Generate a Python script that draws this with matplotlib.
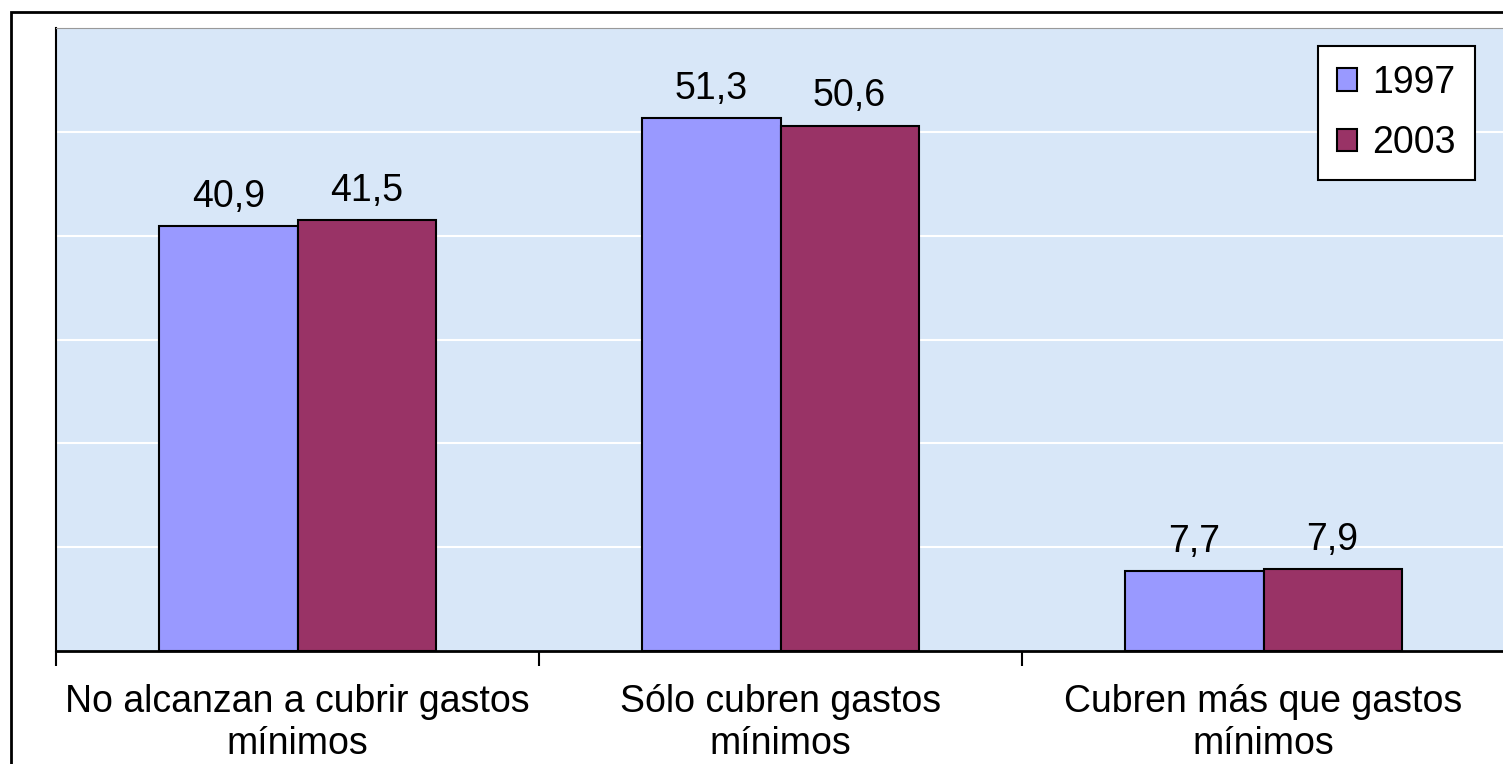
import matplotlib
matplotlib.use("Agg")
from matplotlib import pyplot as plt, patches
import numpy as np

categories = ["No alcanzan a cubrir gastos\nmínimos", "Sólo cubren gastos\nmínimos", "Cubren más que gastos\nmínimos"]
years = ["1997", "2003"]
values_1997 = [40.9, 51.3, 7.7]
values_2003 = [41.5, 50.6, 7.9]

plt.rcParams['font.family'] = ['Liberation Sans', 'DejaVu Sans']

fig = plt.figure(figsize=(15.03, 7.64), dpi=100)
ax = fig.add_axes([56 / 1503, 113 / 764, 1449 / 1503, 623 / 764])

# outer frame of the chart area
fig.patches.append(patches.Rectangle((11 / 1503, -0.05), 1.1, (752 / 764) + 0.05, transform=fig.transFigure,
                                     fill=False, edgecolor='black', linewidth=2, zorder=0))

ax.set_facecolor('#d8e7f8')
x = np.arange(len(categories))
width = 0.286
bars1 = ax.bar(x - width / 2, values_1997, width, color='#9999ff', edgecolor='black', linewidth=1.5, label=years[0], zorder=3)
bars2 = ax.bar(x + width / 2, values_2003, width, color='#993366', edgecolor='black', linewidth=1.5, label=years[1], zorder=3)

for bars, vals in ((bars1, values_1997), (bars2, values_2003)):
    for b, v in zip(bars, vals):
        ax.annotate(f"{v:.1f}".replace('.', ','), (b.get_x() + b.get_width() / 2, v), xytext=(0, 8),
                    textcoords='offset points', ha='center', va='bottom', fontsize=27)

ax.set_xlim(-0.5, 2.5)
ax.set_ylim(0, 60)
ax.set_yticks(range(10, 60, 10))
ax.yaxis.grid(True, color='white', linewidth=1.5, zorder=1)
ax.tick_params(axis='y', left=False, labelleft=False)

ax.set_xticks(x)
ax.set_xticklabels(categories, fontsize=27, linespacing=1.2)
ax.set_xticks([-0.5, 0.5, 1.5], minor=True)
ax.tick_params(axis='x', which='major', length=0, pad=24)
ax.tick_params(axis='x', which='minor', length=11, width=1.5, direction='out')

ax.spines['left'].set_linewidth(1.5)
ax.spines['bottom'].set_linewidth(2)
ax.spines['top'].set_color('#999999')
ax.spines['right'].set_visible(False)

leg = ax.legend(loc='upper right', bbox_to_anchor=(0.979, 0.971), fontsize=27, fancybox=False,
                edgecolor='black', framealpha=1, handlelength=0.55, handleheight=0.55,
                handletextpad=0.4, labelspacing=0.65, borderpad=0.5, borderaxespad=0)
leg.get_frame().set_linewidth(1.5)

fig.savefig("out.png", dpi=100)
